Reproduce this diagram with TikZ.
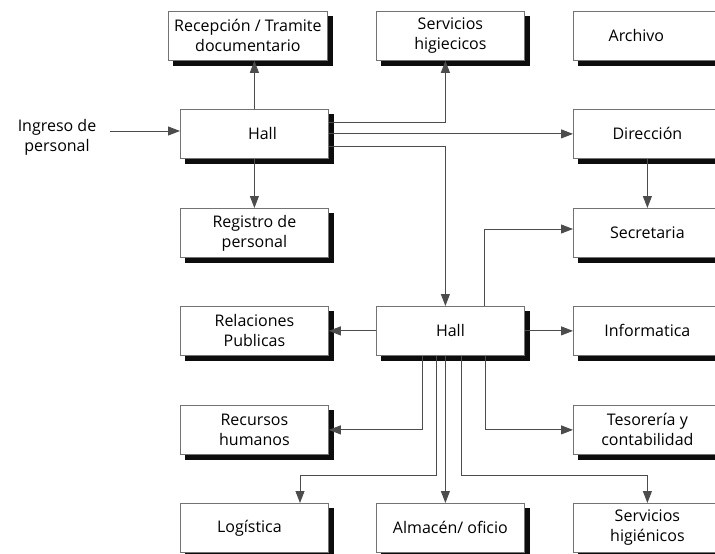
\documentclass[tikz,border=0pt]{standalone}
\usepackage{fontspec}
\setmainfont{Open Sans}
\usetikzlibrary{arrows.meta}
\begin{document}
\begin{tikzpicture}[x=1pt,y=-1pt,
  box/.style={rectangle,draw=black!55,line width=0.8pt,fill=white,
    minimum width=148pt,minimum height=49pt,inner sep=0pt,align=center,
    anchor=north west,font=\fontsize{16}{20}\selectfont},
  shadowbox/.style={rectangle,draw=black!95,fill=black!95,line width=0.8pt,
    minimum width=148pt,minimum height=49pt,inner sep=0pt,anchor=north west},
  conn/.style={draw=black!70,line width=0.9pt},
  arr/.style={conn,-{Triangle[length=12pt,width=9pt]}},
  lbl/.style={align=center,font=\fontsize{16}{20}\selectfont,inner sep=0pt}]
\path[use as bounding box] (0,0) -- (715,0) -- (715,554) -- (0,554) -- cycle;
% shadows (offset 5 right, 5 down), drawn first
\node[shadowbox,minimum width=159pt] (srec) at (173,16) {};
\node[shadowbox] (sserv1) at (381,16) {};
\node[shadowbox] (sarch) at (578,16) {};
\node[shadowbox] (shall1) at (185,114) {};
\node[shadowbox] (sdir) at (578,114) {};
\node[shadowbox] (sreg) at (185,213) {};
\node[shadowbox] (ssec) at (578,213) {};
\node[shadowbox] (srel) at (185,311) {};
\node[shadowbox] (shall2) at (381,311) {};
\node[shadowbox] (sinf) at (578,311) {};
\node[shadowbox] (srh) at (185,410) {};
\node[shadowbox] (stes) at (578,410) {};
\node[shadowbox] (slogi) at (185,508) {};
\node[shadowbox] (salm) at (381,508) {};
\node[shadowbox] (ssh2) at (578,508) {};
% row 1
\node[box,minimum width=159pt] (rec) at (168,11) {Recepción / Tramite\\documentario};
\node[box] (serv1) at (376,11) {Servicios\\higiecicos};
\node[box] (arch) at (573,11) {Archivo\hspace*{22pt}};
% row 2
\node[box] (hall1) at (180,109) {\hspace*{16pt}Hall};
\node[box] (dir) at (573,109) {Dirección};
% row 3
\node[box] (reg) at (180,208) {Registro de\\personal};
\node[box] (sec) at (573,208) {Secretaria};
% row 4
\node[box] (rel) at (180,306) {Relaciones\\Publicas};
\node[box] (hall2) at (376,306) {Hall};
\node[box] (inf) at (573,306) {Informatica};
% row 5
\node[box] (rh) at (180,405) {Recursos\\humanos};
\node[box] (tes) at (573,405) {Tesorería y\\contabilidad};
% row 6
\node[box] (logi) at (180,503) {\hspace*{-10pt}Logística};
\node[box] (alm) at (376,503) {Almacén/ oficio};
\node[box] (sh2) at (573,503) {Servicios\\higiénicos};
% input
\node[lbl] (ingreso) at (57,137) {Ingreso de\\personal};
\coordinate (ing) at (110,131);
% connectors
\draw[arr] (ing) -- (ing -| hall1.west);
\draw[arr] (hall1.north) -- (hall1.north |- rec.south);
\draw[arr] (hall1.south) -- (reg.north);
\draw[arr] ([yshift=-13pt]hall1.north east) -| ([xshift=-5pt]serv1.south);
\draw[arr] (hall1.east) -- (dir.west);
\draw[arr] ([yshift=-37pt]hall1.north east) -| ([xshift=-5pt]hall2.north);
\draw[arr] (dir.south) -- (sec.north);
\draw[arr] ([xshift=108pt]hall2.north west) |- ([yshift=-21pt]sec.north west);
\draw[arr] (hall2.west) -- (rel.east);
\draw[arr] (hall2.east) -- (inf.west);
\draw[arr] ([xshift=46pt]hall2.south west) |- (rh.east);
\draw[arr] ([xshift=60pt]hall2.south west) |- ([xshift=120pt,yshift=28pt]logi.north west) -- ([xshift=120pt]logi.north west);
\draw[arr] ([xshift=-5pt]hall2.south) -- ([xshift=-5pt]alm.north);
\draw[arr] ([xshift=85pt]hall2.south west) |- ([yshift=28pt]sh2.north) -- (sh2.north);
\draw[arr] ([xshift=109pt]hall2.south west) |- (tes.west);
\end{tikzpicture}
\end{document}
